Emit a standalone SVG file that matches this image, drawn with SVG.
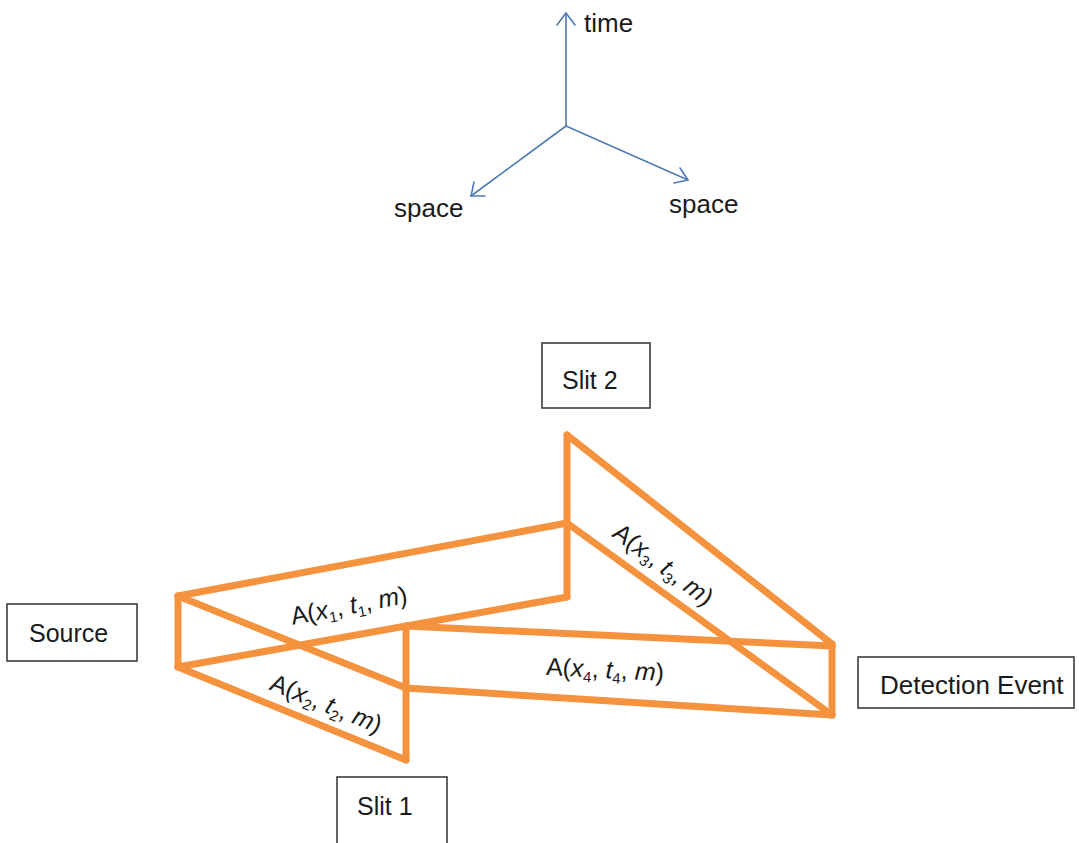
<svg xmlns="http://www.w3.org/2000/svg" width="1079" height="843" viewBox="0 0 1079 843">
  <style>
    .axis { fill: none; stroke: #4f7bb5; stroke-width: 1.6; stroke-linecap: round; stroke-linejoin: round; }
    .axis-label { font-family: "Liberation Sans", Arial, sans-serif; font-size: 26px; fill: #1a1a1a; }
    .box { fill: #ffffff; stroke: #3c3c3c; stroke-width: 1.6; }
    .box-label { font-family: "Liberation Sans", Arial, sans-serif; font-size: 25px; fill: #1a1a1a; text-anchor: start; }
    .path { fill: none; stroke: #f5923e; stroke-width: 7; stroke-linecap: round; stroke-linejoin: round; }
    .amp { font-family: "Liberation Sans", Arial, sans-serif; font-size: 25px; fill: #1a1a1a; text-anchor: middle; }
    .it { font-style: italic; }
    .sub { font-size: 15px; }
  </style>

  <!-- spacetime axes -->
  <g id="axes">
    <line class="axis" x1="566" y1="126" x2="566" y2="13"/>
    <polyline class="axis" points="557,25 566,13 575,25"/>
    <line class="axis" x1="566" y1="126" x2="471" y2="196"/>
    <polyline class="axis" points="474,182 471,196 485,196"/>
    <line class="axis" x1="566" y1="126" x2="688" y2="180"/>
    <polyline class="axis" points="674,183 688,180 680,168"/>
    <text class="axis-label" x="584" y="32">time</text>
    <text class="axis-label" x="394" y="217">space</text>
    <text class="axis-label" x="669" y="213">space</text>
  </g>

  <!-- amplitude paths between the events -->
  <g id="connectors">
    <!-- source to slit 1 and slit 2 -->
    <line class="path" x1="178" y1="596" x2="178" y2="667"/>
    <line class="path" x1="178" y1="596" x2="567" y2="523"/>
    <line class="path" x1="178" y1="667" x2="567" y2="597"/>
    <line class="path" x1="178" y1="596" x2="406" y2="688"/>
    <line class="path" x1="178" y1="667" x2="406" y2="760"/>
    <!-- slit 1 world line -->
    <line class="path" x1="406" y1="626" x2="406" y2="760"/>
    <!-- slit 2 world line -->
    <line class="path" x1="567" y1="435" x2="567" y2="597"/>
    <!-- slit 2 to detection -->
    <line class="path" x1="567" y1="435" x2="832" y2="644"/>
    <line class="path" x1="567" y1="523" x2="832" y2="715"/>
    <!-- slit 1 to detection -->
    <line class="path" x1="406" y1="626" x2="832" y2="646"/>
    <line class="path" x1="406" y1="688" x2="832" y2="715"/>
    <!-- detection world line -->
    <line class="path" x1="832" y1="644" x2="832" y2="715"/>
  </g>

  <!-- amplitude labels -->
  <g id="amplitudes">
    <text class="amp" transform="translate(349,606) rotate(-10.6)" y="8">A(<tspan class="it">x</tspan><tspan class="sub" dy="5">1</tspan><tspan dy="-5">, </tspan><tspan class="it">t</tspan><tspan class="sub" dy="5">1</tspan><tspan dy="-5">, </tspan><tspan class="it">m</tspan>)</text>
    <text class="amp" transform="translate(326,704) rotate(22)" y="8">A(<tspan class="it">x</tspan><tspan class="sub" dy="5">2</tspan><tspan dy="-5">, </tspan><tspan class="it">t</tspan><tspan class="sub" dy="5">2</tspan><tspan dy="-5">, </tspan><tspan class="it">m</tspan>)</text>
    <text class="amp" transform="translate(663,565) rotate(37)" y="8">A(<tspan class="it">x</tspan><tspan class="sub" dy="5">3</tspan><tspan dy="-5">, </tspan><tspan class="it">t</tspan><tspan class="sub" dy="5">3</tspan><tspan dy="-5">, </tspan><tspan class="it">m</tspan>)</text>
    <text class="amp" transform="translate(605,670) rotate(2.8)" y="8">A(<tspan class="it">x</tspan><tspan class="sub" dy="5">4</tspan><tspan dy="-5">, </tspan><tspan class="it">t</tspan><tspan class="sub" dy="5">4</tspan><tspan dy="-5">, </tspan><tspan class="it">m</tspan>)</text>
  </g>

  <g id="source">
    <rect class="box" x="7" y="604" width="130" height="57"/>
    <text class="box-label" x="29" y="642">Source</text>
  </g>

  <g id="slit2">
    <rect class="box" x="542" y="343" width="108" height="65"/>
    <text class="box-label" x="562" y="389">Slit 2</text>
  </g>

  <g id="slit1">
    <rect class="box" x="337" y="777" width="110" height="80"/>
    <text class="box-label" x="357" y="815">Slit 1</text>
  </g>

  <g id="detection">
    <rect class="box" x="858" y="657" width="216" height="51"/>
    <text class="box-label" x="880" y="694" style="font-size:26px">Detection Event</text>
  </g>
</svg>
